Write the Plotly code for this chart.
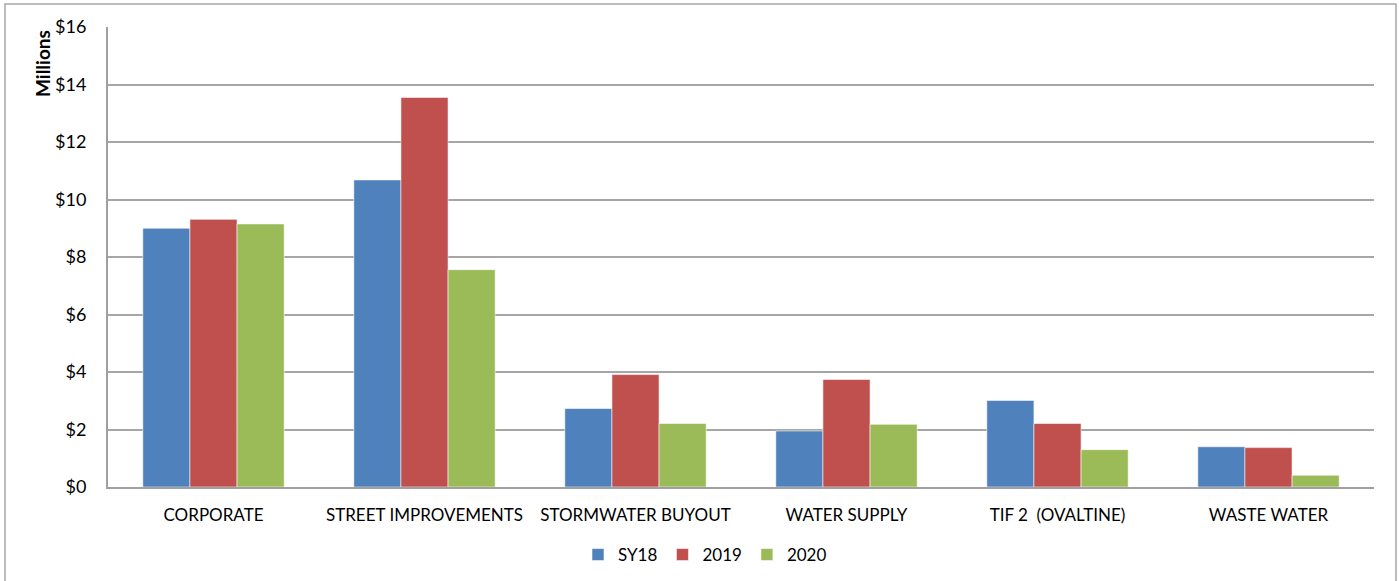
import plotly.graph_objects as go

categories = ["CORPORATE", "STREET IMPROVEMENTS", "STORMWATER BUYOUT",
              "WATER SUPPLY", "TIF 2  (OVALTINE)", "WASTE WATER"]
sy18 = [9.00, 10.68, 2.73, 1.95, 3.01, 1.40]
y2019 = [9.31, 13.55, 3.91, 3.74, 2.21, 1.37]
y2020 = [9.15, 7.56, 2.21, 2.18, 1.30, 0.41]
series_names = ["SY18", "2019", "2020"]
colors = ["#4F81BD", "#C0504D", "#9BBB59"]
y_ticks = [0, 2, 4, 6, 8, 10, 12, 14, 16]
y_tick_text = ["$" + str(v) for v in y_ticks]

FONT = "Lato"

fig = go.Figure()
for name, vals, col in zip(series_names, [sy18, y2019, y2020], colors):
    fig.add_trace(go.Bar(
        x=categories, y=vals, name=name,
        marker=dict(color=col, line=dict(color="rgba(255,255,255,0.55)", width=1)),
    ))

W, H = 1399, 581
ml, mr, mt, mb = 108, 25, 27, 94
pw, ph = W - ml - mr, H - mt - mb

def px_x(p):
    return (p - ml) / pw

def px_y(p):
    return (H - mb - p) / ph

fig.update_layout(
    width=W, height=H,
    margin=dict(l=ml, r=mr, t=mt, b=mb, pad=0, autoexpand=False),
    paper_bgcolor="white", plot_bgcolor="white",
    barmode="group", bargap=0.33, bargroupgap=0,
    font=dict(family=FONT, size=17, color="#000000"),
    legend=dict(orientation="h", x=px_x(705), xanchor="center",
                y=px_y(555), yanchor="middle",
                font=dict(family=FONT, size=17), itemwidth=30,
                traceorder="normal", bgcolor="rgba(0,0,0,0)"),
    xaxis=dict(showgrid=False, showline=True, linecolor="#A0A0A0", linewidth=2,
               ticks="", tickfont=dict(family=FONT, size=17), ticklabelstandoff=12),
    yaxis=dict(range=[0, 16], tickmode="array", tickvals=y_ticks, ticktext=y_tick_text,
               showgrid=True, gridcolor="#A6A6A6", gridwidth=1.5,
               showline=True, linecolor="#A0A0A0", linewidth=2,
               ticks="", tickfont=dict(family=FONT, size=18), ticklabelstandoff=16,
               zeroline=False),
    shapes=[dict(type="rect", xref="paper", yref="paper",
                 x0=px_x(5), x1=px_x(1396), y0=px_y(600), y1=px_y(4),
                 line=dict(color="#A6A6A6", width=1.5), fillcolor="rgba(0,0,0,0)",
                 layer="below")],
    annotations=[dict(text="<b>Millions</b>", textangle=-90, showarrow=False,
                      xref="paper", yref="paper", x=px_x(43), y=px_y(64),
                      xanchor="center", yanchor="middle",
                      font=dict(family=FONT, size=19))],
)

fig.write_html("out.html")
